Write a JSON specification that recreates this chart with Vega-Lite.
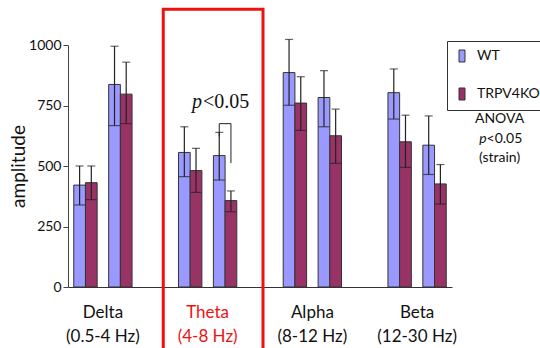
{
  "$schema": "https://vega.github.io/schema/vega-lite/v6.json",
  "width": 384,
  "height": 242,
  "autosize": {"type": "none"},
  "padding": {"left": 68, "top": 45, "right": 88, "bottom": 61},
  "config": {"view": {"stroke": null}, "font": "Lato"},
  "datasets": {
    "bars": [
      {"slot": "D1", "strain": "WT", "mean": 421, "lo": 339, "hi": 500},
      {"slot": "D1", "strain": "TRPV4KO", "mean": 431, "lo": 361, "hi": 500},
      {"slot": "D2", "strain": "WT", "mean": 837, "lo": 667, "hi": 995},
      {"slot": "D2", "strain": "TRPV4KO", "mean": 797, "lo": 675, "hi": 929},
      {"slot": "T1", "strain": "WT", "mean": 556, "lo": 456, "hi": 662},
      {"slot": "T1", "strain": "TRPV4KO", "mean": 481, "lo": 391, "hi": 573},
      {"slot": "T2", "strain": "WT", "mean": 543, "lo": 442, "hi": 639},
      {"slot": "T2", "strain": "TRPV4KO", "mean": 357, "lo": 311, "hi": 397},
      {"slot": "A1", "strain": "WT", "mean": 886, "lo": 751, "hi": 1023},
      {"slot": "A1", "strain": "TRPV4KO", "mean": 760, "lo": 647, "hi": 869},
      {"slot": "A2", "strain": "WT", "mean": 783, "lo": 662, "hi": 894},
      {"slot": "A2", "strain": "TRPV4KO", "mean": 625, "lo": 511, "hi": 735},
      {"slot": "B1", "strain": "WT", "mean": 803, "lo": 694, "hi": 901},
      {"slot": "B1", "strain": "TRPV4KO", "mean": 600, "lo": 494, "hi": 710},
      {"slot": "B2", "strain": "WT", "mean": 586, "lo": 465, "hi": 707},
      {"slot": "B2", "strain": "TRPV4KO", "mean": 426, "lo": 343, "hi": 506}
    ],
    "bracket": [
      {"slot": "T2", "strain": "WT", "y": 622, "o": 1},
      {"slot": "T2", "strain": "WT", "y": 675, "o": 2},
      {"slot": "T2", "strain": "TRPV4KO", "y": 675, "o": 3},
      {"slot": "T2", "strain": "TRPV4KO", "y": 512, "o": 4}
    ]
  },
  "data": {"name": "bars"},
  "encoding": {
    "x": {
      "field": "slot",
      "type": "nominal",
      "sort": null,
      "scale": {
        "domain": ["D1", "D2", "g1", "T1", "T2", "g2", "A1", "A2", "g3", "B1", "B2"],
        "paddingInner": 0.33,
        "paddingOuter": 0.165
      },
      "axis": {
        "title": null,
        "ticks": false,
        "domainColor": "#333333",
        "domainWidth": 1.2,
        "labelAngle": 0,
        "labelFont": "Lato",
        "labelFontSize": 17,
        "labelLineHeight": 24,
        "labelPadding": 17,
        "labelOffset": 17.45,
        "labelExpr": "datum.value == 'D1' ? ['Delta', '(0.5-4 Hz)'] : datum.value == 'T1' ? ['Theta', '(4-8 Hz)'] : datum.value == 'A1' ? ['Alpha', '(8-12 Hz)'] : datum.value == 'B1' ? ['Beta', '(12-30 Hz)'] : ''",
        "labelColor": {"condition": {"test": "datum.value == 'T1'", "value": "#ee1111"}, "value": "#111111"}
      }
    }
  },
  "layer": [
    {
      "mark": {"type": "bar", "stroke": "#333333", "strokeWidth": 1},
      "encoding": {
        "xOffset": {"field": "strain", "type": "nominal", "scale": {"domain": ["WT", "TRPV4KO"], "paddingInner": 0}},
        "y": {
          "field": "mean",
          "type": "quantitative",
          "scale": {"domain": [0, 1000], "nice": false},
          "axis": {
            "values": [0, 250, 500, 750, 1000],
            "format": "d",
            "grid": false,
            "title": "amplitude",
            "titleFont": "Lato",
            "titleFontSize": 19,
            "titleFontWeight": "normal",
            "titleColor": "#111111",
            "titlePadding": 0,
            "labelFont": "Lato",
            "labelFontSize": 14,
            "labelColor": "#111111",
            "labelPadding": 2,
            "tickSize": 5,
            "tickColor": "#444444",
            "domainColor": "#444444"
          }
        },
        "color": {
          "field": "strain",
          "type": "nominal",
          "scale": {"domain": ["WT", "TRPV4KO"], "range": ["#9999ff", "#993366"]},
          "legend": {
            "title": null,
            "orient": "none",
            "legendX": 379,
            "legendY": -4,
            "padding": 8,
            "strokeColor": "#333333",
            "fillColor": "#ffffff",
            "rowPadding": 22,
            "symbolType": "M-0.5,-1H0.5V1H-0.5Z",
            "symbolSize": 144,
            "symbolStrokeColor": "#333333",
            "symbolStrokeWidth": 1,
            "symbolOpacity": 1,
            "labelFont": "Lato",
            "labelFontSize": 14,
            "labelColor": "#111111",
            "labelOffset": 8
          }
        }
      }
    },
    {
      "mark": {"type": "rule", "color": "#222222", "strokeWidth": 1.2, "clip": false},
      "encoding": {
        "xOffset": {"field": "strain", "type": "nominal", "scale": {"domain": ["WT", "TRPV4KO"], "paddingInner": 0}},
        "y": {"field": "lo", "type": "quantitative"},
        "y2": {"field": "hi"}
      }
    },
    {
      "mark": {"type": "tick", "color": "#222222", "thickness": 1.2, "size": 8, "clip": false},
      "encoding": {
        "xOffset": {"field": "strain", "type": "nominal", "scale": {"domain": ["WT", "TRPV4KO"], "paddingInner": 0}},
        "y": {"field": "hi", "type": "quantitative"}
      }
    },
    {
      "mark": {"type": "tick", "color": "#222222", "thickness": 1.2, "size": 11},
      "encoding": {
        "xOffset": {"field": "strain", "type": "nominal", "scale": {"domain": ["WT", "TRPV4KO"], "paddingInner": 0}},
        "y": {"field": "lo", "type": "quantitative"}
      }
    },
    {
      "data": {"name": "bracket"},
      "mark": {"type": "line", "color": "#222222", "strokeWidth": 1, "xOffset": 3},
      "encoding": {
        "xOffset": {"field": "strain", "type": "nominal", "scale": {"domain": ["WT", "TRPV4KO"], "paddingInner": 0}},
        "y": {"field": "y", "type": "quantitative"},
        "order": {"field": "o", "type": "quantitative"}
      }
    },
    {
      "data": {"values": [{}]},
      "mark": {"type": "rect", "fill": null, "stroke": "#ee1111", "strokeWidth": 3, "clip": false, "xOffset": 8, "x2Offset": 3},
      "encoding": {
        "x": {"datum": "g1"},
        "x2": {"datum": "g2"},
        "y": {"datum": 1148},
        "y2": {"datum": -260}
      }
    },
    {
      "data": {"values": [{}]},
      "mark": {"type": "text", "text": "p", "font": "Liberation Serif", "fontStyle": "italic", "fontSize": 20, "align": "right", "baseline": "alphabetic", "dx": -23, "color": "#111111"},
      "encoding": {"x": {"datum": "T2"}, "y": {"datum": 740}}
    },
    {
      "data": {"values": [{}]},
      "mark": {"type": "text", "text": "<0.05", "font": "Liberation Serif", "fontSize": 20, "align": "left", "baseline": "alphabetic", "dx": -22, "color": "#111111"},
      "encoding": {"x": {"datum": "T2"}, "y": {"datum": 740}}
    },
    {
      "data": {"values": [{}]},
      "mark": {"type": "text", "text": "ANOVA", "fontSize": 14, "align": "center", "baseline": "alphabetic", "dx": 65, "color": "#111111", "clip": false},
      "encoding": {"x": {"datum": "B2"}, "y": {"datum": 678}}
    },
    {
      "data": {"values": [{}]},
      "mark": {"type": "text", "text": "p", "fontSize": 14, "fontStyle": "italic", "align": "right", "baseline": "alphabetic", "dx": 52, "color": "#111111", "clip": false},
      "encoding": {"x": {"datum": "B2"}, "y": {"datum": 596}}
    },
    {
      "data": {"values": [{}]},
      "mark": {"type": "text", "text": "<0.05", "fontSize": 14, "align": "left", "baseline": "alphabetic", "dx": 52, "color": "#111111", "clip": false},
      "encoding": {"x": {"datum": "B2"}, "y": {"datum": 596}}
    },
    {
      "data": {"values": [{}]},
      "mark": {"type": "text", "text": "(strain)", "fontSize": 14, "align": "center", "baseline": "alphabetic", "dx": 65, "color": "#111111", "clip": false},
      "encoding": {"x": {"datum": "B2"}, "y": {"datum": 517}}
    }
  ]
}
